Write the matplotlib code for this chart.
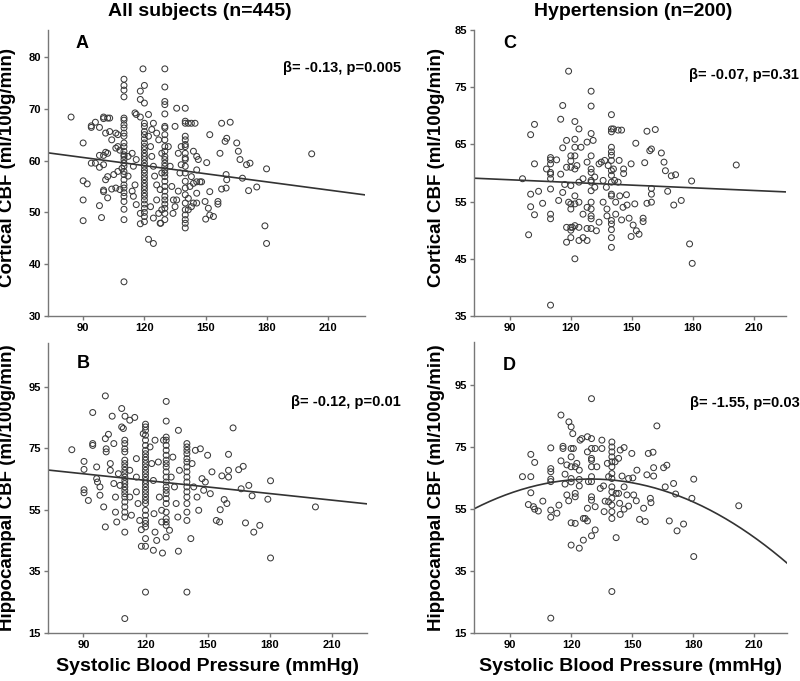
import numpy as np
from matplotlib import pyplot as plt

plt.rcParams['font.family'] = ['Liberation Sans', 'DejaVu Sans']
plt.rcParams['font.weight'] = 'bold'

# ---- Panel A: all subjects, cortical CBF ----
a_cols = {
    110: [75.7, 74.5, 73.6, 72.3, 68.2, 67.8, 66.9, 66.3, 65.3, 64.7, 63.4, 62.7, 61.8, 61.1, 60.8,
          60.2, 59.5, 58.9, 57.9, 57.3, 56.3, 55.3, 54.7, 53.8, 53.1, 52.1, 50.6, 48.6, 36.6],
    120: [67.2, 66.6, 65.6, 65.0, 64.2, 63.4, 62.7, 62.1, 61.4, 60.8, 60.2, 59.5, 58.9, 58.2, 57.6,
          56.9, 56.3, 55.6, 55.0, 54.4, 53.7, 53.1, 52.4, 51.6, 50.8, 50.0, 49.2, 48.2],
    130: [77.7, 74.2, 71.4, 70.8, 69.0, 66.6, 66.3, 65.0, 64.0, 62.7, 61.8, 60.8, 60.2, 59.5, 58.9,
          58.2, 57.6, 56.9, 56.0, 55.0, 54.1, 53.1, 52.4, 51.6, 50.8, 49.8, 48.6],
    140: [70.1, 67.6, 67.2, 64.7, 64.0, 63.1, 62.7, 61.4, 60.5, 60.2, 58.9, 57.6, 56.0, 54.7, 53.4,
          51.8, 50.5, 49.5, 48.6, 47.9, 47.0],
}
a_x = [84.1, 90, 90, 92, 90, 90, 94, 94, 96, 98, 100, 100, 102, 103, 94, 96, 98, 98, 100, 100, 102, 101,
       98, 99, 100, 100, 102, 101, 102, 105, 101, 103, 106, 107, 104, 107, 108, 106, 104, 106, 108, 109, 107,
       112, 112, 114, 114.6, 115.4, 116, 118, 118, 116, 115.4, 116, 118, 118, 114, 114.6, 118, 120, 119.3,
       120, 122, 122, 124.4,
       122, 123, 123.6, 124.4, 125, 126, 126, 127, 127.7, 124.4, 123, 123.6, 124.4, 126, 127, 128.5, 128.5,
       127.7, 128.5, 128,
       131.7, 132.6, 133.4, 134.2, 134, 135, 135.8, 136.6, 137.4, 136.6, 135.8, 135, 138, 138,
       141.5, 143, 144.8, 144, 145.6, 146.4, 145.6, 143, 142.3, 144, 145.6, 147.2, 148, 145.6, 144, 141.5,
       143, 145.6, 141.5, 150.5, 149.7, 151.3, 152, 152, 150, 152, 153.8, 156, 156,
       157, 157.8, 157.8, 159.5, 160.3, 160, 160.3, 160, 162, 165.2, 166, 166.8, 168, 170, 171.7, 171, 175,
       179, 179.8, 179.8, 201.9]
a_y = [68.4, 63.4, 56.1, 55.5, 52.4, 48.4, 66.7, 66.4, 67.4, 66.4, 68.4, 68.1, 68.2, 68.2, 59.5, 59.5, 61, 58.7,
       61, 59.2, 61.4, 61.6, 51.3, 49, 54, 54.3, 52.8, 56.3, 56.9, 57.3, 65.3, 65.6, 65.3, 65, 64, 62.7, 62,
       62.4, 54.5, 54.7, 54.4, 58.5, 57.9,
       57, 60.8, 61.4, 58.9, 69.2, 68.9, 68.4, 71.8, 60.2, 55.3, 51.5, 49.8, 47.8, 54.1, 53.1, 73.4, 74.5,
       77.7, 71.1, 68.9, 44.8, 44,
       64.7, 62.7, 60.8, 58.9, 57, 55.3, 52.4, 49.8, 47.9, 48.9, 51.1, 66, 67.2, 65.3, 64, 61.4, 57.6, 54.4,
       50.5, 47.9,
       62.7, 58.9, 55, 52.4, 49.8, 66.6, 70.1, 61.4, 57.6, 54.1, 52.4, 51.1, 59.2, 62.7,
       67.2, 67.2, 67.2, 61.8, 60.8, 60.2, 58.2, 56.9, 55, 55.6, 55.9, 55.9, 55.9, 53.7, 51.8, 50.5, 51.1,
       51.8, 52.7, 59.6, 52.1, 50.8, 65, 54, 48.7, 49.5, 49.2, 52.1, 51.6,
       61.4, 67.2, 54.5, 63.7, 64.3, 57.3, 56.3, 54.7, 67.4, 63.4, 61.8, 60.2, 56.6, 59.2, 59.5, 54.2, 54.9,
       47.4, 58.4, 44, 61.3]
a_fit = (65.3, -0.0523)  # intercept, slope

# ---- Panel B: all subjects, hippocampal CBF ----
b_cols = {
    110: [77.7, 76.6, 74.9, 73.9, 71.2, 70.1, 69.0, 67.9, 66.8, 65.7, 64.6, 63.6, 62.5, 61.4, 60.3, 59.2,
          57.6, 56.0, 54.3, 52.7, 47.8, 19.7],
    120: [82.9, 82.0, 80.9, 79.3, 77.7, 76.0, 74.4, 73.3, 72.2, 71.2, 70.1, 69.0, 67.9, 66.8, 65.7, 64.6,
          63.6, 62.5, 61.4, 60.3, 59.2, 58.1, 57.1, 54.9, 53.3, 51.6, 50.6, 49.5, 45.7, 43.2, 28.3],
    130: [90.3, 83.9, 78.7, 77.7, 76.0, 74.4, 72.8, 71.2, 70.1, 69.0, 67.4, 65.7, 64.1, 62.5, 61.4, 60.3,
          58.7, 57.1, 54.3, 52.2, 51.1, 50.0, 46.2],
    140: [76.6, 75.5, 74.4, 73.3, 71.7, 70.6, 69.0, 67.4, 65.7, 64.1, 62.5, 60.9, 59.2, 57.1, 54.3, 51.6,
          28.3],
}
b_x = [84.4, 90.3, 90.3, 90.3, 90.3, 92.4, 94.5, 94.5, 94.5, 96.4, 96.4, 96.8, 98, 98, 99.8, 100.6, 100.6,
       100.6, 101, 101, 102.1, 103, 103, 103.9, 104.7, 104.7, 105.5, 105.5, 106.1, 106.9, 107.7, 108.5,
       108.5, 109.3, 110.1,
       112.4, 112.4, 112.4, 113.2, 114.8, 115.6, 115.6, 115.6, 116.4, 117.2, 118, 118, 118.9,
       122.2, 123, 123.8, 124.1, 124.6, 123.8, 124.6, 125.4, 126.2, 126.7, 127.8, 127.8, 128.2, 128.7,
       131.6, 132.4, 133.2, 134, 134.8, 135.6, 135.9, 135.9, 136.4,
       141.9, 142.5, 143.3, 144.1, 144.9, 145.7, 146.5, 147.3, 148.1, 148.9, 150, 151.3, 152.1, 154.2, 155.8,
       156.1, 156.9, 158, 159.3, 160.1, 160.1, 160.1, 162.3, 165, 167.2, 166.2, 168.3, 169.9, 171.5, 172.3,
       175.2, 179.1, 180.4, 180.4, 202.1]
b_y = [74.6, 70.8, 68.2, 61.6, 60.6, 58.1, 86.7, 76.6, 76, 69, 65.2, 64.1, 62.5, 59.8, 56, 49.5, 92.1, 78.2,
       74.9, 73.9, 79.6, 70.1, 67.9, 85.5, 76.6, 63.6, 59.2, 54.3, 51.1, 66.8, 63, 88, 82, 81.5, 85.5,
       84.2, 67.9, 59.2, 53.3, 85.1, 71.7, 65.7, 60.9, 57.1, 51.6, 43.2, 48.6, 79.8,
       75.5, 70.1, 64.6, 53.8, 77.7, 41.9, 47.8, 45.1, 70.6, 59.2, 54.9, 51.1, 41, 77.7,
       48.4, 65.7, 72.2, 62.5, 57.1, 52.7, 80.9, 41.6, 67.9,
       45.7, 70.1, 62.5, 74.4, 59.2, 54.9, 74.9, 65.2, 61.4, 64.1, 72.8, 60.3, 67.4, 51.6, 51.1,
       55.1, 66.1, 58.4, 57.1, 73.1, 65.7, 67.9, 81.7, 68.1, 69.2, 61.9, 50.8, 63, 59.6, 47.8,
       50, 58.5, 64.5, 39.4, 56]
b_fit = (73.2, -0.0714)

# ---- Panel C: hypertension, cortical CBF ----
c_cols = {
    110: [62.7, 62.3, 61.6, 60.1, 59.8, 59.0, 57.2, 52.8, 52.0, 36.9],
    120: [63.0, 62.1, 61.0, 57.8, 54.6, 53.7, 50.5, 50.0, 48.7],
    130: [74.3, 71.7, 66.9, 63.0, 60.7, 60.1, 58.7, 58.4, 56.9, 54.9, 53.7, 52.5, 52.0, 50.3],
    140: [70.2, 67.7, 67.2, 64.5, 63.7, 63.1, 62.2, 60.4, 59.6, 58.4, 56.3, 56.0, 51.7, 51.1, 50.1, 48.7,
          47.0],
}
c_x = [96.2, 100.2, 100.2, 102.1, 100.2, 102.1, 102.1, 99.2, 104.1, 106.1, 108, 113, 114, 115, 115, 116, 116,
       116, 117, 117.9, 117.9, 117.9, 117.9, 118.9, 118.9, 120.8, 122, 122, 122, 122, 122, 122, 122, 122,
       122, 123, 124, 124, 124, 124, 124, 125, 126, 126, 126, 128, 128, 128, 128, 128, 131, 131.8, 131.8,
       132.6, 133.9, 133.9, 135, 135.9, 135.9, 136.7, 137.5, 137.8, 137.8, 138.4, 141, 141, 141.6, 142.1,
       142.1, 143.3, 143.3, 143.8, 144.1, 145, 145, 145.7, 146, 146, 147.4, 147.7, 148.7, 149.7, 149.7,
       150.7, 151.5, 152, 152.3, 153.6, 155.6, 155.6, 156.4, 157.5, 157.5, 158.9, 159.7, 159.7, 159.7,
       159.7, 161.6, 164.6, 165.9, 166.6, 167.7, 169.5, 171.6, 170.7, 174.4, 178.5, 179.5, 179.8, 201.5]
c_y = [59, 56.3, 66.7, 68.5, 54.1, 52.7, 61.6, 49.2, 56.8, 54.7, 60.7, 62.3, 55.2, 59.8, 69.4, 64.4, 56.6,
       71.8, 58, 61, 65.7, 50.5, 47.9, 77.8, 54.9, 50.5, 64.5, 63, 60.7, 56, 54.6, 50.8, 69, 65.9, 45,
       61.3, 67.7, 58.4, 54.9, 48.2, 50.5, 64.5, 59, 52.8, 48.7, 65.4, 61.9, 54, 50.3, 48.2, 65.7, 59.3,
       57.5, 49.9, 51.4, 61.6, 61.9, 58.7, 54.9, 62.2, 57.5, 53.7, 52.5, 61.3, 67.7, 60.7, 58.7, 54.9, 52.8,
       67.5, 58.4, 62.2, 56, 67.5, 51.8, 54, 60.7, 59.9, 56.2, 54.4, 52.1, 61.6, 48.9, 50.9, 54.6, 65.2,
       49.9, 49.3, 52.1, 51.5, 61.8, 54.7, 67.3, 63.9, 64.2, 57.3, 56.3, 54.9, 67.6, 63.5, 61.9, 60.4, 56.8,
       59.5, 59.7, 54.4, 55.2, 47.6, 58.6, 44.2, 61.4]
c_fit = (60.22, -0.0156)

# ---- Panel D: hypertension, hippocampal CBF ----
d_cols = {
    110: [74.8, 68.1, 67.1, 64.7, 63.9, 54.7, 52.4, 19.8],
    120: [81.6, 74.6, 71.9, 68.7, 64.9, 63.8, 50.6, 43.4],
    130: [90.7, 77.8, 74.6, 71.4, 70.8, 68.7, 65.5, 63.9, 59.0, 57.9, 46.4],
    140: [76.7, 75.1, 73.5, 71.9, 70.3, 68.7, 66.5, 64.9, 62.2, 60.6, 58.5, 56.3, 54.2, 52.0, 28.4],
}
d_x = [96.1, 99, 100.2, 100.2, 100.2, 101.5, 102.1, 102.1, 103.9, 106.1, 113, 114, 115, 115, 116, 116, 117,
       117, 117.9, 117.9, 118.8, 118.9, 120.8, 121.1, 122, 122, 122, 122, 122.8, 124, 124, 124, 124, 124.4,
       125.2, 126, 126, 126.9, 128, 128, 128, 128, 128.5, 131.8, 131.8, 131.8, 132.6, 134.3, 135.1, 135.1,
       135.9, 136.2, 136.7, 137.8, 138.4, 138.4, 141.6, 142.1, 142.1, 143.3, 143.3, 143.8, 144.1, 145, 146,
       146, 144.1, 146, 147.4, 148.2, 148.2, 149.8, 150.3, 150.7, 152, 152.3, 153.6, 155.6, 156.4, 157.2,
       157.9, 158.9, 159.2, 160.2, 160.5, 160.5, 162.1, 165.4, 167, 166.2, 168.2, 170.3, 171.3, 172, 175.2,
       179.3, 180.2, 180.2, 202.3]
d_y = [65.5, 56.5, 60.3, 72.7, 65.5, 55.8, 70.1, 55, 54.4, 57.6, 53.7, 56.3, 85.4, 70.6, 75.3, 74.6, 66.3,
       63.1, 69.3, 59.6, 57.7, 83.2, 79.4, 74.6, 68.7, 60.1, 59, 50.4, 69.8, 67.6, 64.6, 62.5, 42.4, 77.3,
       77.8, 45, 52, 52, 78.4, 73.5, 55.3, 51.2, 63.9, 74.6, 48.3, 55.8, 68.7, 61.7, 74.6, 77.3,
       62.5, 54.2, 57.6, 69.8, 57.4, 65.5, 70.3, 60.1, 45.8, 71.4, 60.1, 56.9, 74.1, 65.7, 74.9,
       62.2, 53.3, 55, 59.6, 64.9, 56, 73, 65.1, 59.6, 57.7, 67.6, 51.7, 55.3, 51, 66.1,
       73, 58.5, 57.1, 73.4, 68.4, 65.7, 81.9, 68.4, 69.2, 62.2, 51.2, 63.3, 59.9, 48, 50.2,
       58.5, 64.7, 39.7, 56.1]
d_fit = (133.0, 64.7, -0.0194, -0.002925)  # centre, value at centre, linear, quadratic

col_titles = ['All subjects (n=445)', 'Hypertension (n=200)']
annotations = ['β= -0.13, p=0.005', 'β= -0.07, p=0.31', 'β= -0.12, p=0.01', 'β= -1.55, p=0.03']
letters = ['A', 'C', 'B', 'D']


def all_points(cols, xs, ys):
    px = list(xs)
    py = list(ys)
    for sbp, vals in cols.items():
        px += [sbp] * len(vals)
        py += vals
    return px, py


fig = plt.figure(figsize=(8, 6.81), dpi=100)
W, H = 800.0, 681.0
boxes = [(48, 30, 317, 286), (474, 30, 312, 286), (48, 343, 319, 290), (474, 342, 313, 291)]
axes = [fig.add_axes([l / W, 1 - (t + h) / H, w / W, h / H]) for l, t, w, h in boxes]
axA, axC, axB, axD = axes

panels = [
    (axA, a_cols, a_x, a_y, (72.8, 228), (30, 85.2), np.arange(30, 81, 10)),
    (axC, c_cols, c_x, c_y, (72.3, 226), (35, 85), np.arange(35, 86, 10)),
    (axB, b_cols, b_x, b_y, (72.9, 227), (15, 109.3), np.arange(15, 96, 20)),
    (axD, d_cols, d_x, d_y, (72.3, 226), (15, 109), np.arange(15, 96, 20)),
]
# letter / annotation placement in axes fractions
letter_pos = [(0.088, 0.983), (0.093, 0.983), (0.09, 0.959), (0.093, 0.948)]
annot_pos = [(1.115, 0.867), (1.04, 0.843), (1.105, 0.797), (1.04, 0.79)]

for i, (ax, cols, xs, ys, xl, yl, yt) in enumerate(panels):
    px, py = all_points(cols, xs, ys)
    ax.scatter(px, py, s=18, facecolors='none', edgecolors='#3a3a3a', linewidths=0.75, zorder=3)
    ax.set_xlim(*xl)
    ax.set_ylim(*yl)
    ax.set_xticks(np.arange(90, 211, 30))
    ax.set_yticks(yt)
    for side in ['top', 'right']:
        ax.spines[side].set_visible(False)
    for side in ['left', 'bottom']:
        ax.spines[side].set_color('#777777')
        ax.spines[side].set_linewidth(1.0)
    ax.tick_params(direction='out', length=3, width=1, color='#777777', labelsize=8, pad=2)
    ax.text(*letter_pos[i], letters[i], transform=ax.transAxes, fontsize=13, fontweight='bold',
            ha='left', va='top')
    ax.text(*annot_pos[i], annotations[i], transform=ax.transAxes,
            fontsize=10.5, fontweight='bold', ha='right', va='center')

# fit lines
xa = np.linspace(*axA.get_xlim(), 100)
axA.plot(xa, a_fit[0] + a_fit[1] * xa, color='#333333', lw=1.2)
xc = np.linspace(*axC.get_xlim(), 100)
axC.plot(xc, c_fit[0] + c_fit[1] * xc, color='#333333', lw=1.2)
xb = np.linspace(*axB.get_xlim(), 100)
axB.plot(xb, b_fit[0] + b_fit[1] * xb, color='#333333', lw=1.2)
xd = np.linspace(*axD.get_xlim(), 200)
u = xd - d_fit[0]
axD.plot(xd, d_fit[1] + d_fit[2] * u + d_fit[3] * u ** 2, color='#333333', lw=1.2)

for ax in [axA, axC]:
    ax.set_ylabel('Cortical CBF (ml/100g/min)', fontsize=13.5, fontweight='bold')
for ax in [axB, axD]:
    ax.set_ylabel('Hippocampal CBF (ml/100g/min)', fontsize=13.5, fontweight='bold')
    ax.set_xlabel('Systolic Blood Pressure (mmHg)', fontsize=14, fontweight='bold')
    ax.xaxis.set_label_coords(0.5, -0.085)
axA.yaxis.set_label_coords(-0.10, 0.52)
axB.yaxis.set_label_coords(-0.10, 0.5)
axC.yaxis.set_label_coords(-0.093, 0.52)
axD.yaxis.set_label_coords(-0.093, 0.5)

fig.text(200 / W, 1 - 16.5 / H, col_titles[0], fontsize=14, fontweight='bold', ha='center', va='baseline')
fig.text(633 / W, 1 - 16.5 / H, col_titles[1], fontsize=14, fontweight='bold', ha='center', va='baseline')

fig.savefig('out.png', dpi=100)
